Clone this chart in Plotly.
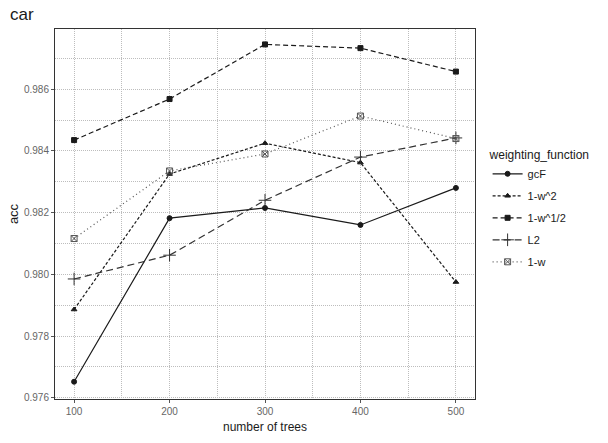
import plotly.graph_objects as go

trees = [100, 200, 300, 400, 500]
series_names = ["gcF", "1-w^2", "1-w^1/2", "L2", "1-w"]
gcF = [0.97652, 0.98182, 0.98215, 0.98160, 0.98280]
w2 = [0.97886, 0.98325, 0.98425, 0.98362, 0.97975]
w12 = [0.98435, 0.98568, 0.98745, 0.98733, 0.98657]
l2 = [0.97985, 0.98062, 0.98240, 0.98380, 0.98442]
w1 = [0.98116, 0.98335, 0.98390, 0.98513, 0.98440]

values = [gcF, w2, w12, l2, w1]
symbols = ["circle", "triangle-up", "square", "cross-thin-open", "square-x-open"]
dashes = ["solid", "3px,2px", "5px,3px", "7px,4px", "1px,3px"]
colors = ["#1a1a1a", "#1a1a1a", "#1a1a1a", "#333333", "#555555"]
msizes = [5, 5, 5, 9, 6]

fig = go.Figure()
for name, vals, sym, dash, col, ms in zip(series_names, values, symbols, dashes, colors, msizes):
    fig.add_trace(go.Scatter(
        x=trees, y=vals, name=name, mode="lines+markers", legendgroup=name,
        line=dict(color=col, width=1.2, dash=dash),
        marker=dict(symbol=sym, size=ms, color=col,
                    line=dict(color=col, width=1)),
    ))

GRIDC = "#bdbdbd"
grid = dict(showgrid=True, gridcolor=GRIDC, griddash="1px,1px", gridwidth=1,
            showline=True, linecolor="#333333", linewidth=1, mirror=True,
            ticks="outside", ticklen=3, tickcolor="#555555",
            tickfont=dict(family="Liberation Sans, Arial", size=10, color="#666666"),
            zeroline=False)

fig.update_xaxes(range=[80, 520], tickvals=trees,
                 minor=dict(tickvals=[150, 250, 350, 450], showgrid=True,
                            gridcolor=GRIDC, griddash="1px,1px", ticks=""),
                 title=dict(text="number of trees",
                            font=dict(family="Liberation Sans, Arial", size=12, color="#1a1a1a"),
                            standoff=6),
                 **grid)
fig.update_yaxes(range=[0.97596, 0.98795], tickvals=[0.976, 0.978, 0.98, 0.982, 0.984, 0.986],
                 ticktext=["0.976", "0.978", "0.980", "0.982", "0.984", "0.986"],
                 minor=dict(tickvals=[0.977, 0.979, 0.981, 0.983, 0.985, 0.987], showgrid=True,
                            gridcolor=GRIDC, griddash="1px,1px", ticks=""),
                 title=dict(text="acc",
                            font=dict(family="Liberation Sans, Arial", size=13, color="#1a1a1a"),
                            standoff=2),
                 **grid)

fig.update_layout(
    width=608, height=443,
    margin=dict(l=55, r=133, t=29, b=39),
    paper_bgcolor="white", plot_bgcolor="white",
    title=dict(text="car", x=10/608, xanchor="left", y=1-14/443, yanchor="middle",
               font=dict(family="Liberation Sans, Arial", size=17, color="#1a1a1a")),
    legend=dict(x=1.03, y=0.69, xanchor="left", yanchor="top",
                title=dict(text="weighting_function",
                           font=dict(family="Liberation Sans, Arial", size=12, color="#1a1a1a")),
                font=dict(family="Liberation Sans, Arial", size=11, color="#1a1a1a"),
                tracegroupgap=3, itemwidth=30),
    showlegend=True,
)

fig.write_html("out.html")
